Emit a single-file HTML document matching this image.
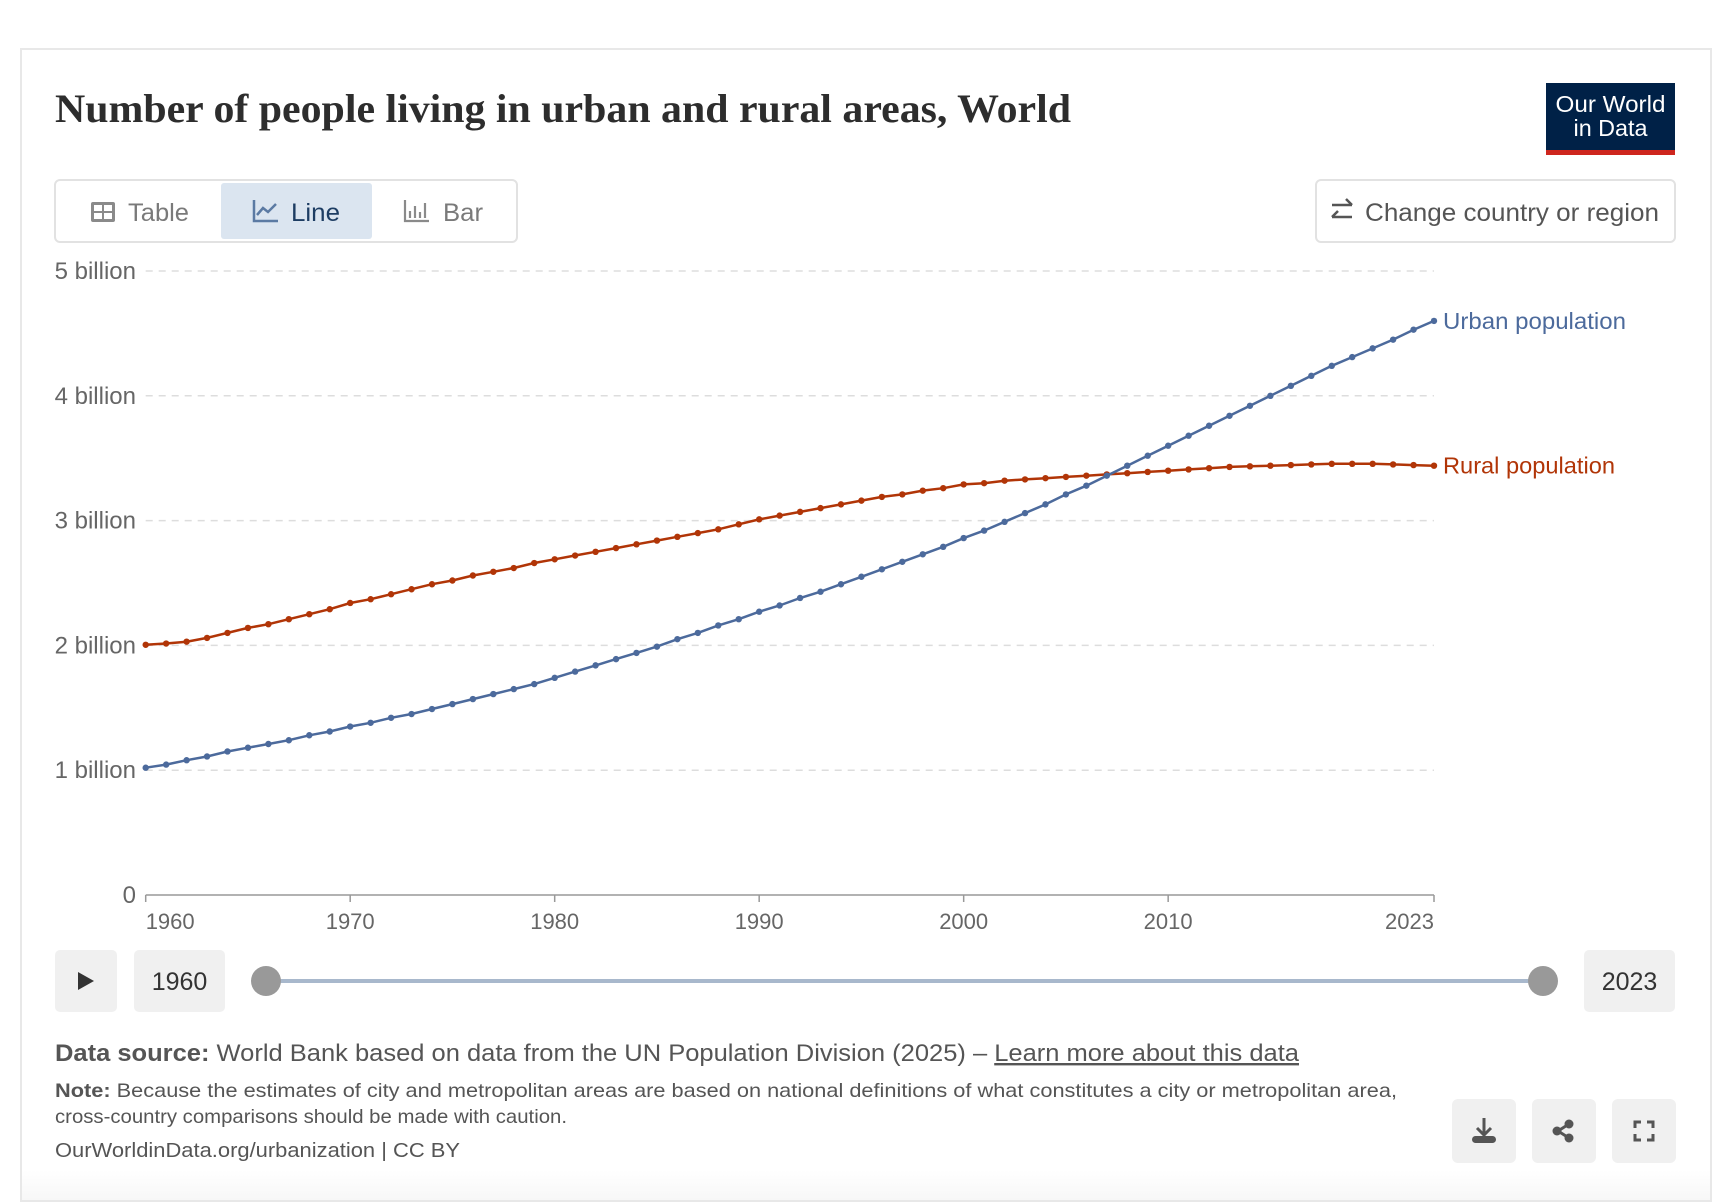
<!DOCTYPE html>
<html><head><meta charset="utf-8"><style>
html,body{margin:0;padding:0;background:#fff;}
svg{display:block;font-family:"Liberation Sans",sans-serif;}
</style></head><body>
<svg id="root" width="1714" height="1202" viewBox="0 0 1714 1202" xmlns="http://www.w3.org/2000/svg">
  <defs>
    <linearGradient id="fade" x1="0" y1="0" x2="0" y2="1">
      <stop offset="0" stop-color="#fff"/><stop offset="1" stop-color="#f7f7f7"/>
    </linearGradient>
  </defs>
  <rect x="21" y="49" width="1690" height="1152" fill="#fff" stroke="#e8e8e8" stroke-width="2"/>
  <rect x="22" y="1170" width="1688" height="30" fill="url(#fade)"/>

  <text x="55" y="122" font-family="Liberation Serif, serif" font-weight="bold" font-size="40" fill="#2d2d2d" textLength="1016" lengthAdjust="spacingAndGlyphs">Number of people living in urban and rural areas, World</text>

  <g>
    <rect x="1546" y="83" width="129" height="71" fill="#002147"/>
    <rect x="1546" y="150" width="129" height="5" fill="#ce261e"/>
    <text x="1610.5" y="112" text-anchor="middle" font-size="23" fill="#fff" textLength="110" lengthAdjust="spacingAndGlyphs">Our World</text>
    <text x="1610.5" y="136" text-anchor="middle" font-size="23" fill="#fff" textLength="74" lengthAdjust="spacingAndGlyphs">in Data</text>
  </g>

  <g>
    <rect x="55" y="180" width="462" height="62" rx="5" fill="#fff" stroke="#e2e2e2" stroke-width="2"/>
    <g>
      <rect x="91" y="202" width="24" height="20" rx="2" fill="#8a8a8a"/>
      <rect x="94" y="205" width="8" height="6" fill="#fff"/><rect x="104" y="205" width="8" height="6" fill="#fff"/>
      <rect x="94" y="213" width="8" height="6" fill="#fff"/><rect x="104" y="213" width="8" height="6" fill="#fff"/>
      <text x="128" y="221" font-size="25" fill="#7a7a7a" textLength="61" lengthAdjust="spacingAndGlyphs">Table</text>
    </g>
    <g>
      <rect x="221" y="183" width="151" height="56" rx="3" fill="#dbe5f0"/>
      <path d="M254 200 V221 H278 M257 215 L263 208 L268 212 L276 204" fill="none" stroke="#5b7aa3" stroke-width="2.5"/>
      <text x="291" y="221" font-size="25" fill="#1d3d63" textLength="49" lengthAdjust="spacingAndGlyphs">Line</text>
    </g>
    <g>
      <path d="M405 200 V221 H429 M410 218 V211 M415 218 V206 M420 218 V212 M425 218 V203" fill="none" stroke="#8a8a8a" stroke-width="2.2"/>
      <text x="443" y="221" font-size="25" fill="#7a7a7a" textLength="40" lengthAdjust="spacingAndGlyphs">Bar</text>
    </g>
  </g>

  <g>
    <rect x="1316" y="180" width="359" height="62" rx="5" fill="#fff" stroke="#e2e2e2" stroke-width="2"/>
    <path d="M1332 205 H1352 M1346 199 L1352 205 M1352 217 H1332 M1338 211 L1332 217" fill="none" stroke="#555" stroke-width="2.5"/>
    <text x="1365" y="221" font-size="25" fill="#555" textLength="294" lengthAdjust="spacingAndGlyphs">Change country or region</text>
  </g>

  <g id="plot"></g>

  <g>
    <g>
      <rect x="55" y="950" width="62" height="62" rx="5" fill="#f0f0f0"/>
      <path d="M78 972 L94 981 L78 990 Z" fill="#333"/>
    </g>
    <g>
      <rect x="134" y="950" width="91" height="62" rx="5" fill="#f0f0f0"/>
      <text x="179.5" y="990" text-anchor="middle" font-size="25" fill="#333">1960</text>
    </g>
    <rect x="266" y="979" width="1277" height="4" fill="#a8b8cc"/>
    <circle cx="266" cy="981" r="15" fill="#999"/>
    <circle cx="1543" cy="981" r="15" fill="#999"/>
    <g>
      <rect x="1584" y="950" width="91" height="62" rx="5" fill="#f0f0f0"/>
      <text x="1629.5" y="990" text-anchor="middle" font-size="25" fill="#333">2023</text>
    </g>
  </g>

  <g>
    <text x="55" y="1061" font-size="24" fill="#555" textLength="1244" lengthAdjust="spacingAndGlyphs"><tspan font-weight="bold">Data source:</tspan> World Bank based on data from the UN Population Division (2025) – <tspan text-decoration="underline">Learn more about this data</tspan></text>
    <text x="55" y="1097" font-size="19.5" fill="#555" textLength="1342" lengthAdjust="spacingAndGlyphs"><tspan font-weight="bold">Note:</tspan> Because the estimates of city and metropolitan areas are based on national definitions of what constitutes a city or metropolitan area,</text>
    <text x="55" y="1123" font-size="19.5" fill="#555" textLength="512" lengthAdjust="spacingAndGlyphs">cross-country comparisons should be made with caution.</text>
    <text x="55" y="1157" font-size="20.5" fill="#555" textLength="405" lengthAdjust="spacingAndGlyphs">OurWorldinData.org/urbanization | CC BY</text>
  </g>

  <g>
    <rect x="1452" y="1099" width="64" height="64" rx="6" fill="#f0f0f0"/>
    <path d="M1484 1118 V1134 M1477 1128 L1484 1135 L1491 1128" fill="none" stroke="#555" stroke-width="3"/>
    <rect x="1472" y="1136" width="24" height="7" rx="3.5" fill="#555"/>
  </g>
  <g>
    <rect x="1532" y="1099" width="64" height="64" rx="6" fill="#f0f0f0"/>
    <path d="M1558 1131 L1569 1124 M1558 1131 L1569 1138" stroke="#555" stroke-width="3"/>
    <circle cx="1557" cy="1131" r="4.5" fill="#555"/><circle cx="1569" cy="1124" r="4.5" fill="#555"/><circle cx="1569" cy="1138" r="4.5" fill="#555"/>
  </g>
  <g>
    <rect x="1612" y="1099" width="64" height="64" rx="6" fill="#f0f0f0"/>
    <path d="M1635 1128 V1122 H1641 M1647 1122 H1653 V1128 M1653 1134 V1140 H1647 M1641 1140 H1635 V1134" fill="none" stroke="#555" stroke-width="3"/>
  </g>
</svg>
<script>
const years = [];
for (let y = 1960; y <= 2023; y++) years.push(y);
const urbanPop = [1.02,1.045,1.08,1.11,1.15,1.18,1.21,1.24,1.28,1.31,
  1.35,1.38,1.42,1.45,1.49,1.53,1.57,1.61,1.65,1.69,
  1.74,1.79,1.84,1.89,1.94,1.99,2.05,2.10,2.16,2.21,
  2.27,2.32,2.38,2.43,2.49,2.55,2.61,2.67,2.73,2.79,
  2.86,2.92,2.99,3.06,3.13,3.21,3.28,3.36,3.44,3.52,
  3.60,3.68,3.76,3.84,3.92,4.00,4.08,4.16,4.24,4.31,
  4.38,4.45,4.53,4.60];
const ruralPop = [2.005,2.015,2.03,2.06,2.10,2.14,2.17,2.21,2.25,2.29,
  2.34,2.37,2.41,2.45,2.49,2.52,2.56,2.59,2.62,2.66,
  2.69,2.72,2.75,2.78,2.81,2.84,2.87,2.90,2.93,2.97,
  3.01,3.04,3.07,3.10,3.13,3.16,3.19,3.21,3.24,3.26,
  3.29,3.30,3.32,3.33,3.34,3.35,3.36,3.37,3.38,3.39,
  3.40,3.41,3.42,3.43,3.435,3.44,3.445,3.45,3.455,3.455,
  3.455,3.45,3.445,3.44];
const yTicks = [0,1,2,3,4,5];
const yTickLabels = ["0","1 billion","2 billion","3 billion","4 billion","5 billion"];
const xTicks = [1960,1970,1980,1990,2000,2010,2023];

const NS = "http://www.w3.org/2000/svg";
const plot = document.getElementById('plot');
const X0 = 145.7, X1 = 1434, Y0 = 895, Y1 = 271;
const xScale = y => X0 + (y - 1960) / (2023 - 1960) * (X1 - X0);
const yScale = v => Y0 - v / 5 * (Y0 - Y1);
function mk(tag, attrs) { const e = document.createElementNS(NS, tag); for (const k in attrs) e.setAttribute(k, attrs[k]); plot.appendChild(e); return e; }

yTicks.forEach((t, i) => {
  if (t > 0) {
    const g = mk('line', {x1: X0, x2: X1, y1: yScale(t), y2: yScale(t), stroke: '#dddddd', 'stroke-width': 1.5, 'stroke-dasharray': '7,6'});
    
    
  }
  const lb = mk('text', {x: 136, y: yScale(t) + 8, 'text-anchor': 'end', 'font-size': 24, fill: '#666'});
  lb.textContent = yTickLabels[i];
  
  
});
const ax = mk('line', {x1: X0, x2: X1, y1: Y0, y2: Y0, stroke: '#999', 'stroke-width': 1.5});


xTicks.forEach((t, i) => {
  const tk = mk('line', {x1: xScale(t), x2: xScale(t), y1: Y0, y2: Y0 + 7, stroke: '#999', 'stroke-width': 1.5});
  
  
  const anchor = i === 0 ? 'start' : (i === xTicks.length - 1 ? 'end' : 'middle');
  const lb = mk('text', {x: xScale(t), y: Y0 + 34, 'text-anchor': anchor, 'font-size': 22, fill: '#666'});
  lb.textContent = String(t);
  
  
});

function series(vals, color, name, label, labelW) {
  const d = vals.map((v, i) => (i ? 'L' : 'M') + xScale(years[i]).toFixed(1) + ' ' + yScale(v).toFixed(1)).join(' ');
  const p = mk('path', {d: d, fill: 'none', stroke: color, 'stroke-width': 2.5});
  
  
  vals.forEach((v, i) => {
    const c = mk('circle', {cx: xScale(years[i]), cy: yScale(v), r: 3.2, fill: color});
    
    
  });
  const t = mk('text', {x: X1 + 9, y: yScale(vals[vals.length - 1]) + 8, 'font-size': 23, fill: color, textLength: labelW, lengthAdjust: 'spacingAndGlyphs'});
  t.textContent = label;
  
  
}
series(ruralPop, '#b13507', 'rural', 'Rural population', 172);
series(urbanPop, '#4c6a9c', 'urban', 'Urban population', 183);
</script>
</body></html>
